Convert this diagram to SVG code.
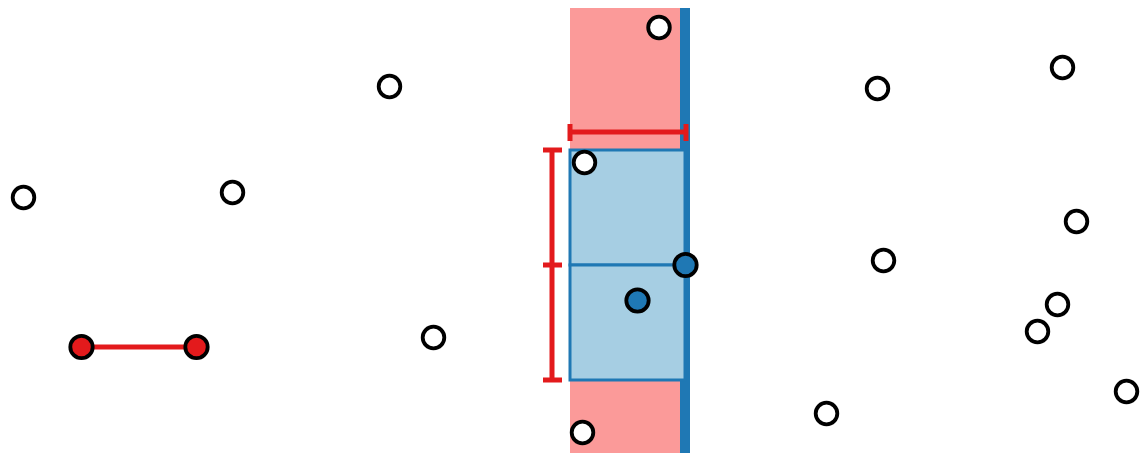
<svg xmlns="http://www.w3.org/2000/svg" width="1140" height="454" viewBox="0 0 1140 454">
<style>
.pt{stroke:#000;stroke-width:3.8}
.w{fill:#fff}
.b{fill:#1f78b4}
.r{fill:#e31a1c}
.cell{fill:#a6cee3;stroke:#1f78b4;stroke-width:3}
.meas{stroke:#e31a1c;stroke-width:5;fill:none}
</style>
<rect width="1140" height="454" fill="#fff"/>
<g id="strip">
<rect x="570" y="8" width="111" height="445" fill="#fb9a99"/>
<rect x="680" y="8" width="10" height="445" fill="#1f78b4"/>
</g>
<g id="cells">
<rect class="cell" x="570" y="150" width="115" height="115"/>
<rect class="cell" x="570" y="265" width="115" height="115"/>
</g>
<g id="connectors">
<path class="meas" d="M570 132H686M570 124V141M686 124V141"/>
<path class="meas" d="M552 150V380M543 150H562M543 265H562M543 380H562"/>
<line x1="82" y1="347" x2="197" y2="347" stroke="#e31a1c" stroke-width="5"/>
</g>
<g id="points">
<circle class="pt w" cx="659" cy="27.5" r="10.8"/>
<circle class="pt w" cx="389.5" cy="86.5" r="10.8"/>
<circle class="pt w" cx="877.5" cy="88.5" r="10.8"/>
<circle class="pt w" cx="1062.5" cy="67.5" r="10.8"/>
<circle class="pt w" cx="23.5" cy="197.5" r="10.8"/>
<circle class="pt w" cx="232.5" cy="192.5" r="10.8"/>
<circle class="pt w" cx="584.5" cy="162.5" r="10.8"/>
<circle class="pt w" cx="1076.5" cy="221.5" r="10.8"/>
<circle class="pt w" cx="883.5" cy="260.5" r="10.8"/>
<circle class="pt w" cx="1057.5" cy="304.5" r="10.8"/>
<circle class="pt w" cx="1037.5" cy="331.5" r="10.8"/>
<circle class="pt w" cx="433.5" cy="337.5" r="10.8"/>
<circle class="pt w" cx="1126.5" cy="391.5" r="10.8"/>
<circle class="pt w" cx="826.5" cy="413.5" r="10.8"/>
<circle class="pt w" cx="582.5" cy="432.5" r="10.8"/>
<circle class="pt b" cx="685.5" cy="265" r="11.2"/>
<circle class="pt b" cx="637.5" cy="300.5" r="11.2"/>
<circle class="pt r" cx="81.5" cy="347" r="11.2"/>
<circle class="pt r" cx="196.5" cy="347" r="11.2"/>
</g>
</svg>
